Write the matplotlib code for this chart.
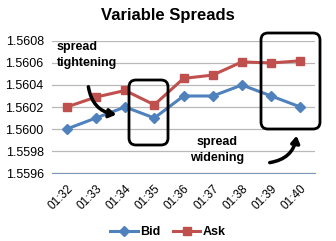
import numpy as np
import matplotlib.pyplot as plt
from matplotlib.patches import FancyBboxPatch, FancyArrowPatch

times = ['01:32', '01:33', '01:34', '01:35', '01:36', '01:37', '01:38', '01:39', '01:40']
bid = [1.5600, 1.5601, 1.5602, 1.5601, 1.5603, 1.5603, 1.5604, 1.5603, 1.5602]
ask = [1.5602, 1.56029, 1.56035, 1.56022, 1.56046, 1.56049, 1.56061, 1.5606, 1.56062]
y_ticks = [1.5596, 1.5598, 1.5600, 1.5602, 1.5604, 1.5606, 1.5608]

plt.rcParams['font.family'] = ['Liberation Sans', 'DejaVu Sans']

fig = plt.figure(figsize=(3.36, 2.41), dpi=100)
ax = fig.add_axes([0.155, 0.282, 0.7825, 0.548])

x = np.arange(len(times))
ax.plot(x, bid, color='#4F81BD', lw=2.2, marker='D', markersize=5, label='Bid', clip_on=False)
ax.plot(x, ask, color='#C0504D', lw=2.2, marker='s', markersize=6, label='Ask', clip_on=False)

ax.set_xlim(-0.5, len(times) - 0.5)
ax.set_ylim(y_ticks[0], y_ticks[-1])
ax.set_yticks(y_ticks)
ax.set_yticklabels([f'{v:.4f}' for v in y_ticks], fontsize=9)
ax.set_xticks(x)
ax.set_xticklabels(times, fontsize=8.5, rotation=45, ha='right', rotation_mode='anchor')
ax.tick_params(axis='y', length=0, pad=6)
ax.tick_params(axis='x', length=0, pad=7)
ax.grid(axis='y', color='#B8B8B8', lw=0.9)
ax.set_axisbelow(True)
for s in ['top', 'right', 'left']:
    ax.spines[s].set_visible(False)
ax.spines['bottom'].set_color('#7F98B8')

fig.text(0.5, 0.935, 'Variable Spreads', ha='center', va='center', fontsize=12, fontweight='bold')

# annotation boxes (inches from bottom-left, 100 px per inch)
H = 2.41
def box(l, t, r, b):
    p = FancyBboxPatch((l / 100, H - b / 100), (r - l) / 100, (b - t) / 100,
                       boxstyle='round,pad=0,rounding_size=0.07',
                       transform=fig.dpi_scale_trans, fill=False, ec='black', lw=2.0)
    fig.add_artist(p)

box(129, 80, 168, 145)
box(261, 33, 320, 129)

fig.text(57 / 336, 1 - 55 / 241, 'spread\ntightening', ha='left', va='center',
         fontsize=9, fontweight='bold', linespacing=1.4)
fig.text(217 / 336, 1 - 150 / 241, 'spread\nwidening', ha='center', va='center',
         fontsize=9, fontweight='bold', linespacing=1.4)

def arrow(x0, y0, x1, y1, rad):
    a = FancyArrowPatch((x0 / 100, H - y0 / 100), (x1 / 100, H - y1 / 100),
                        transform=fig.dpi_scale_trans, connectionstyle=f'arc3,rad={rad}',
                        arrowstyle='-|>,head_length=4,head_width=2.5', lw=2.5, color='black')
    fig.add_artist(a)

arrow(88, 84, 119, 115, 0.4)
arrow(267, 163, 297, 133, 0.4)

fig.legend(loc='center', bbox_to_anchor=(0.5, 1 - 232 / 241), ncol=2, frameon=False,
           prop={'size': 9, 'weight': 'bold'}, handlelength=2.2, columnspacing=1.0, handletextpad=0.2)

fig.savefig('out.png', dpi=100)
